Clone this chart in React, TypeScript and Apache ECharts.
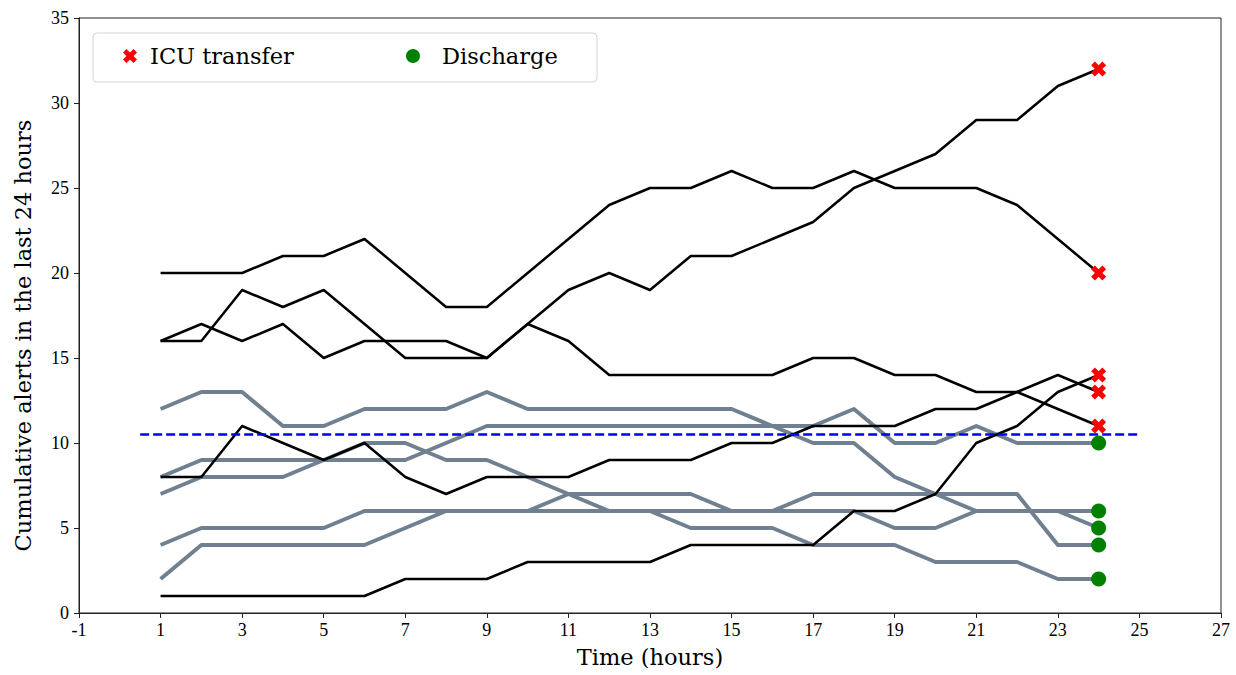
import React, { useEffect, useRef } from "react";
import * as echarts from "echarts";

// ---- data ----
const HOURS = [1, 2, 3, 4, 5, 6, 7, 8, 9, 10, 11, 12, 13, 14, 15, 16, 17, 18, 19, 20, 21, 22, 23, 24];

// patients later transferred to the ICU (black lines, red X)
const ICU_A = [20, 20, 20, 21, 21, 22, 20, 18, 18, 20, 22, 24, 25, 25, 26, 25, 25, 26, 25, 25, 25, 24, 22, 20];
const ICU_B = [16, 16, 19, 18, 19, 17, 15, 15, 15, 17, 19, 20, 19, 21, 21, 22, 23, 25, 26, 27, 29, 29, 31, 32];
const ICU_C = [16, 17, 16, 17, 15, 16, 16, 16, 15, 17, 16, 14, 14, 14, 14, 14, 15, 15, 14, 14, 13, 13, 12, 11];
const ICU_D = [8, 8, 11, 10, 9, 10, 8, 7, 8, 8, 8, 9, 9, 9, 10, 10, 11, 11, 11, 12, 12, 13, 14, 13];
const ICU_E = [1, 1, 1, 1, 1, 1, 2, 2, 2, 3, 3, 3, 3, 4, 4, 4, 4, 6, 6, 7, 10, 11, 13, 14];

// patients discharged (grey lines, green dot)
const DIS_A = [12, 13, 13, 11, 11, 12, 12, 12, 13, 12, 12, 12, 12, 12, 12, 11, 10, 10, 8, 7, 6, 6, 6, 5];
const DIS_B = [8, 9, 9, 9, 9, 9, 9, 10, 11, 11, 11, 11, 11, 11, 11, 11, 11, 12, 10, 10, 11, 10, 10, 10];
const DIS_C = [7, 8, 8, 8, 9, 10, 10, 9, 9, 8, 7, 6, 6, 5, 5, 5, 4, 4, 4, 3, 3, 3, 2, 2];
const DIS_D = [4, 5, 5, 5, 5, 6, 6, 6, 6, 6, 7, 7, 7, 7, 6, 6, 7, 7, 7, 7, 7, 7, 4, 4];
const DIS_E = [2, 4, 4, 4, 4, 4, 5, 6, 6, 6, 6, 6, 6, 6, 6, 6, 6, 6, 5, 5, 6, 6, 6, 6];

const ICU_SERIES = [ICU_A, ICU_B, ICU_C, ICU_D, ICU_E];
const DIS_SERIES = [DIS_A, DIS_B, DIS_C, DIS_D, DIS_E];

const THRESHOLD = 10.5;
const THRESHOLD_SPAN = [0.5, 25];

const X_MIN = -1;
const X_MAX = 27;
const X_STEP = 2;
const Y_MIN = 0;
const Y_MAX = 35;
const Y_STEP = 5;

const X_PATH =
  "path://M0,2.5L2.5,0L5,2.5L7.5,0L10,2.5L7.5,5L10,7.5L7.5,10L5,7.5L2.5,10L0,7.5L2.5,5Z";

const SERIF = "DejaVu Serif";
const TICK_FONT = "'Liberation Serif', 'Times New Roman', serif";

export default function App() {
  const ref = useRef<HTMLDivElement>(null);

  useEffect(() => {
    if (!ref.current) return;
    const chart = echarts.init(ref.current, undefined, { renderer: "svg" });
    const lastHour = HOURS[HOURS.length - 1];
    const toPairs = (arr: number[]) => HOURS.map((h, i) => [h, arr[i]]);

    const greyLines = DIS_SERIES.map((arr, i) => ({
      type: "line",
      id: "dis" + i,
      data: toPairs(arr),
      showSymbol: false,
      symbol: "none",
      silent: true,
      z: 2,
      lineStyle: { color: "#708090", width: 4, join: "round" },
    }));
    const blackLines = ICU_SERIES.map((arr, i) => ({
      type: "line",
      id: "icu" + i,
      data: toPairs(arr),
      showSymbol: false,
      symbol: "none",
      silent: true,
      z: 3,
      lineStyle: { color: "#000000", width: 2.5, join: "round" },
    }));

    const option: any = {
      animation: false,
      backgroundColor: "#ffffff",
      grid: {
        left: 79,
        right: 15,
        top: 18,
        bottom: 62,
        show: true,
        borderColor: "#222",
        borderWidth: 1,
        backgroundColor: "transparent",
      },
      xAxis: {
        type: "value",
        min: X_MIN,
        max: X_MAX,
        interval: X_STEP,
        splitLine: { show: false },
        axisLine: { onZero: false, lineStyle: { color: "#222", width: 1 } },
        axisTick: { length: 5, lineStyle: { color: "#222" } },
        axisLabel: { fontFamily: TICK_FONT, fontSize: 18, color: "#000", margin: 8 },
        name: "Time (hours)",
        nameLocation: "middle",
        nameGap: 32,
        nameTextStyle: { fontFamily: SERIF, fontSize: 22.5, color: "#000" },
      },
      yAxis: {
        type: "value",
        min: Y_MIN,
        max: Y_MAX,
        interval: Y_STEP,
        splitLine: { show: false },
        axisLine: { show: true, onZero: false, lineStyle: { color: "#222", width: 1 } },
        axisTick: { show: true, length: 5, lineStyle: { color: "#222" } },
        axisLabel: { fontFamily: TICK_FONT, fontSize: 18, color: "#000", margin: 10 },
        name: "Cumulative alerts in the last 24 hours",
        nameLocation: "middle",
        nameGap: 45,
        nameTextStyle: {
          fontFamily: SERIF,
          fontSize: 22.5,
          color: "#000",
          padding: [0, 40, 0, 0],
        },
      },
      legend: [
        {
          data: [{ name: "ICU transfer", icon: X_PATH }],
          left: 123,
          top: 44,
          padding: 0,
          itemWidth: 14,
          itemHeight: 14,
          selectedMode: false,
          z: 8,
          itemStyle: { opacity: 1 },
          textStyle: {
            fontFamily: SERIF,
            fontSize: 22.5,
            color: "#000",
            lineHeight: 24,
            padding: [0, 0, 0, 8],
          },
        },
        {
          data: [{ name: "Discharge", icon: "circle" }],
          left: 406,
          top: 44,
          padding: 0,
          itemWidth: 14,
          itemHeight: 14,
          selectedMode: false,
          z: 8,
          itemStyle: { opacity: 1 },
          textStyle: {
            fontFamily: SERIF,
            fontSize: 22.5,
            color: "#000",
            lineHeight: 24,
            padding: [0, 0, 0, 17],
          },
        },
      ],
      graphic: [
        {
          type: "rect",
          z: 7,
          shape: { x: 93, y: 33, width: 504, height: 49, r: 4 },
          style: { fill: "rgba(255,255,255,0.85)", stroke: "#d4d4d4", lineWidth: 1 },
          silent: true,
        },
      ],
      series: [
        ...greyLines,
        ...blackLines,
        {
          type: "line",
          id: "threshold",
          data: THRESHOLD_SPAN.map((x) => [x, THRESHOLD]),
          showSymbol: false,
          symbol: "none",
          silent: true,
          z: 4,
          lineStyle: { color: "#0000ff", width: 2.5, type: [9, 4] },
        },
        {
          type: "scatter",
          name: "ICU transfer",
          data: ICU_SERIES.map((arr) => [lastHour, arr[arr.length - 1]]),
          symbol: X_PATH,
          symbolSize: 15,
          z: 5,
          itemStyle: { color: "#ff0000", opacity: 1 },
        },
        {
          type: "scatter",
          name: "Discharge",
          data: DIS_SERIES.map((arr) => [lastHour, arr[arr.length - 1]]),
          symbol: "circle",
          symbolSize: 15,
          z: 5,
          itemStyle: { color: "#008000", opacity: 1 },
        },
      ],
    };

    chart.setOption(option);
    return () => chart.dispose();
  }, []);

  return (
    <div
      ref={ref}
      style={{ position: "fixed", left: 0, top: 0, width: 1236, height: 675, background: "#fff" }}
    />
  );
}
